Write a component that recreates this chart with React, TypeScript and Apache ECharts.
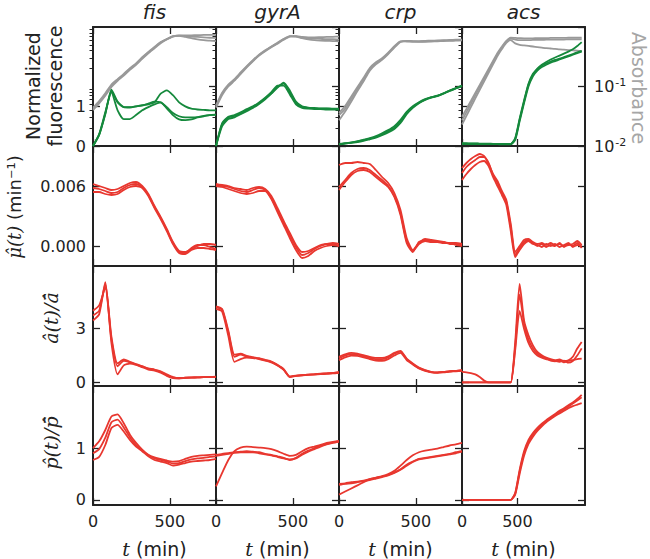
import React, { useEffect, useRef } from "react";
import * as echarts from "echarts";

// ---------- categories / axes ----------
const GENES = ["fis", "gyrA", "crp", "acs"];
const T_STD = [0, 40, 80, 120, 160, 200, 240, 280, 320, 360, 400, 440, 480, 520, 560, 600, 640, 680, 720, 760, 800];
const T_ACS = [0, 40, 80, 120, 160, 200, 240, 280, 320, 360, 400, 440, 480, 520, 560, 600, 640, 680, 720, 760, 800, 840, 880, 920, 960, 1000, 1040, 1080];
const X_MAX = [800, 800, 800, 1110];
const X_TICKS = [0, 500];
const FLUO_TICKS = [0, 1];
const MU_TICKS = [0, 0.006];
const A_TICKS = [0, 3];
const P_TICKS = [0, 1];

// ---------- fis ----------
const fisAbs = [
  [0.042, 0.055, 0.074, 0.104, 0.129, 0.158, 0.197, 0.239, 0.301, 0.373, 0.453, 0.548, 0.622, 0.698, 0.718, 0.70, 0.69, 0.68, 0.67, 0.66, 0.65],
  [0.040, 0.052, 0.070, 0.098, 0.125, 0.152, 0.19, 0.232, 0.292, 0.362, 0.44, 0.535, 0.615, 0.69, 0.72, 0.72, 0.725, 0.73, 0.735, 0.74, 0.74],
  [0.044, 0.057, 0.077, 0.108, 0.133, 0.163, 0.203, 0.245, 0.31, 0.382, 0.462, 0.56, 0.63, 0.70, 0.71, 0.68, 0.65, 0.62, 0.60, 0.59, 0.58],
];
const fisFluo = [
  [0, 0.28, 0.8, 1.42, 1.12, 0.98, 0.97, 1.0, 1.03, 1.05, 1.1, 1.32, 1.4, 1.28, 1.1, 1.0, 0.94, 0.92, 0.91, 0.9, 0.9],
  [0, 0.28, 0.82, 1.38, 1.1, 0.98, 0.98, 1.0, 1.02, 1.07, 1.12, 1.1, 0.98, 0.83, 0.75, 0.72, 0.72, 0.73, 0.76, 0.78, 0.79],
  [0, 0.3, 0.85, 1.35, 0.9, 0.68, 0.68, 0.78, 0.9, 0.98, 1.05, 1.1, 0.95, 0.78, 0.67, 0.65, 0.67, 0.72, 0.75, 0.78, 0.79],
];
const fisMu = [
  [0.0058, 0.0057, 0.0055, 0.0053, 0.0054, 0.0058, 0.0061, 0.0062, 0.0059, 0.0051, 0.0039, 0.0028, 0.0016, 0.0003, -0.0006, -0.0007, -0.0002, 0.0001, 0.0001, -0.0001, -0.0003],
  [0.0062, 0.006, 0.0058, 0.0056, 0.0057, 0.006, 0.0063, 0.0064, 0.006, 0.0052, 0.004, 0.0029, 0.0017, 0.0004, -0.0005, -0.0006, -0.0003, 0.0, 0.0002, 0.0002, 0.0001],
  [0.0054, 0.0054, 0.0052, 0.0051, 0.0052, 0.0056, 0.0059, 0.006, 0.0058, 0.005, 0.0038, 0.0027, 0.0015, 0.0002, -0.0007, -0.0008, -0.0004, -0.0002, -0.0002, -0.0003, -0.0004],
];
const fisA = [
  [3.74, 4.0, 5.5, 2.54, 1.06, 1.28, 1.15, 1.02, 0.91, 0.78, 0.72, 0.59, 0.41, 0.28, 0.24, 0.26, 0.28, 0.28, 0.3, 0.31, 0.31],
  [4.0, 4.3, 5.3, 2.4, 0.9, 1.2, 1.12, 1.0, 0.88, 0.76, 0.7, 0.62, 0.45, 0.3, 0.25, 0.26, 0.27, 0.28, 0.29, 0.3, 0.31],
  [3.46, 3.8, 5.6, 2.2, 0.45, 0.95, 1.05, 0.98, 0.85, 0.72, 0.66, 0.55, 0.36, 0.24, 0.22, 0.25, 0.27, 0.28, 0.29, 0.3, 0.32],
];
const fisP = [
  [1.0, 1.13, 1.35, 1.61, 1.65, 1.48, 1.26, 1.1, 0.97, 0.87, 0.82, 0.79, 0.76, 0.74, 0.75, 0.79, 0.83, 0.85, 0.86, 0.87, 0.88],
  [0.77, 0.83, 1.06, 1.39, 1.45, 1.32, 1.16, 1.03, 0.94, 0.84, 0.77, 0.74, 0.71, 0.66, 0.68, 0.71, 0.74, 0.75, 0.76, 0.77, 0.79],
  [0.9, 0.98, 1.2, 1.5, 1.55, 1.4, 1.21, 1.06, 0.95, 0.86, 0.8, 0.77, 0.74, 0.7, 0.71, 0.75, 0.78, 0.8, 0.81, 0.83, 0.84],
];

// ---------- gyrA ----------
const gyrAAbs = [
  [0.046, 0.076, 0.104, 0.129, 0.167, 0.215, 0.271, 0.337, 0.398, 0.464, 0.535, 0.622, 0.698, 0.698, 0.664, 0.647, 0.64, 0.631, 0.622, 0.622, 0.615],
  [0.044, 0.072, 0.10, 0.125, 0.162, 0.21, 0.265, 0.33, 0.39, 0.455, 0.525, 0.61, 0.69, 0.70, 0.68, 0.67, 0.67, 0.675, 0.68, 0.685, 0.69],
  [0.048, 0.079, 0.108, 0.133, 0.172, 0.22, 0.277, 0.343, 0.405, 0.472, 0.545, 0.632, 0.70, 0.69, 0.65, 0.62, 0.60, 0.59, 0.585, 0.58, 0.575],
];
const gyrAFluo = [
  [0, 0.55, 0.72, 0.76, 0.82, 0.9, 0.98, 1.08, 1.2, 1.33, 1.5, 1.57, 1.35, 1.08, 0.98, 0.96, 0.95, 0.94, 0.94, 0.93, 0.93],
  [0, 0.5, 0.68, 0.72, 0.8, 0.88, 0.96, 1.06, 1.18, 1.32, 1.47, 1.6, 1.4, 1.12, 1.0, 0.97, 0.96, 0.95, 0.95, 0.94, 0.94],
  [0, 0.58, 0.74, 0.78, 0.85, 0.93, 1.0, 1.1, 1.22, 1.36, 1.52, 1.52, 1.3, 1.05, 0.96, 0.94, 0.93, 0.93, 0.92, 0.92, 0.92],
];
const gyrAMu = [
  [0.0061, 0.006, 0.0059, 0.0057, 0.0055, 0.0054, 0.0056, 0.0058, 0.0056, 0.0048, 0.0036, 0.0023, 0.0011, -0.0001, -0.0009, -0.0007, -0.0003, 0.0, 0.0002, 0.0002, 0.0],
  [0.0062, 0.0061, 0.006, 0.0058, 0.0057, 0.0056, 0.0058, 0.0059, 0.0057, 0.005, 0.0038, 0.0025, 0.0013, 0.0001, -0.0006, -0.0005, -0.0002, 0.0001, 0.0002, 0.0003, 0.0002],
  [0.006, 0.0059, 0.0057, 0.0055, 0.0053, 0.0052, 0.0053, 0.0055, 0.0055, 0.0047, 0.0034, 0.0021, 0.0008, -0.0004, -0.0012, -0.001, -0.0005, -0.0002, 0.0, 0.0001, 0.0],
];
const gyrAA = [
  [4.2, 4.05, 2.8, 1.43, 1.55, 1.45, 1.39, 1.33, 1.24, 1.15, 0.96, 0.72, 0.31, 0.37, 0.4, 0.43, 0.45, 0.47, 0.5, 0.52, 0.56],
  [4.1, 3.95, 2.6, 1.15, 1.3, 1.38, 1.36, 1.3, 1.22, 1.12, 0.94, 0.7, 0.3, 0.36, 0.39, 0.42, 0.44, 0.46, 0.48, 0.5, 0.54],
  [4.25, 4.1, 2.9, 1.55, 1.6, 1.48, 1.41, 1.35, 1.26, 1.17, 0.98, 0.74, 0.33, 0.38, 0.41, 0.44, 0.46, 0.49, 0.51, 0.53, 0.57],
];
const gyrAP = [
  [0.26, 0.52, 0.77, 0.94, 1.01, 1.03, 1.02, 1.01, 1.0, 0.98, 0.94, 0.89, 0.85, 0.87, 0.94, 1.0, 1.03, 1.06, 1.1, 1.12, 1.14],
  [0.87, 0.89, 0.9, 0.92, 0.93, 0.94, 0.93, 0.92, 0.89, 0.87, 0.84, 0.81, 0.77, 0.81, 0.89, 0.95, 1.0, 1.05, 1.08, 1.11, 1.13],
  [0.85, 0.87, 0.89, 0.91, 0.92, 0.92, 0.92, 0.9, 0.88, 0.86, 0.83, 0.8, 0.78, 0.8, 0.87, 0.93, 0.98, 1.03, 1.07, 1.1, 1.12],
];

// ---------- crp ----------
const crpAbs = [
  [0.033, 0.0425, 0.062, 0.091, 0.131, 0.197, 0.245, 0.289, 0.36, 0.464, 0.57, 0.58, 0.575, 0.57, 0.572, 0.578, 0.585, 0.59, 0.595, 0.6, 0.605],
  [0.027, 0.038, 0.056, 0.084, 0.122, 0.185, 0.235, 0.28, 0.35, 0.45, 0.56, 0.585, 0.58, 0.58, 0.585, 0.59, 0.595, 0.6, 0.605, 0.61, 0.615],
  [0.036, 0.047, 0.068, 0.098, 0.14, 0.205, 0.255, 0.298, 0.37, 0.475, 0.575, 0.57, 0.565, 0.562, 0.565, 0.57, 0.575, 0.58, 0.585, 0.59, 0.595],
];
const crpFluo = [
  [0.05, 0.07, 0.09, 0.12, 0.16, 0.2, 0.25, 0.32, 0.4, 0.5, 0.66, 0.86, 1.0, 1.1, 1.18, 1.23, 1.27, 1.33, 1.4, 1.46, 1.52],
  [0.04, 0.06, 0.08, 0.1, 0.13, 0.17, 0.21, 0.27, 0.34, 0.43, 0.58, 0.8, 0.96, 1.08, 1.16, 1.22, 1.26, 1.32, 1.39, 1.45, 1.51],
  [0.05, 0.065, 0.085, 0.11, 0.145, 0.185, 0.23, 0.29, 0.37, 0.46, 0.62, 0.83, 0.98, 1.09, 1.17, 1.225, 1.265, 1.325, 1.395, 1.455, 1.515],
];
const crpMu = [
  [0.0081, 0.0083, 0.0083, 0.0084, 0.0083, 0.0082, 0.0076, 0.0069, 0.0063, 0.0053, 0.0036, 0.0008, -0.0004, 0.0003, 0.0007, 0.0006, 0.0005, 0.0004, 0.0003, 0.0003, 0.0002],
  [0.0056, 0.0064, 0.0071, 0.0075, 0.0076, 0.0074, 0.0069, 0.0064, 0.0059, 0.0049, 0.0031, 0.0003, -0.0006, 0.0004, 0.0005, 0.0004, 0.0004, 0.0003, 0.0003, 0.0001, 0.0],
  [0.0059, 0.0066, 0.0073, 0.0077, 0.0078, 0.0076, 0.0071, 0.0066, 0.006, 0.005, 0.0033, 0.0005, -0.0005, 0.0002, 0.0005, 0.0005, 0.0004, 0.0004, 0.0002, 0.0002, 0.0001],
];
const crpA = [
  [1.43, 1.57, 1.65, 1.61, 1.52, 1.43, 1.37, 1.37, 1.46, 1.65, 1.76, 1.33, 1.06, 0.83, 0.69, 0.59, 0.56, 0.59, 0.63, 0.65, 0.69],
  [1.24, 1.4, 1.5, 1.48, 1.4, 1.3, 1.22, 1.2, 1.3, 1.5, 1.65, 1.25, 1.0, 0.78, 0.64, 0.56, 0.54, 0.56, 0.6, 0.62, 0.65],
  [1.35, 1.5, 1.58, 1.55, 1.46, 1.37, 1.3, 1.3, 1.4, 1.6, 1.72, 1.3, 1.03, 0.8, 0.67, 0.58, 0.55, 0.58, 0.61, 0.64, 0.67],
];
const crpP = [
  [0.1, 0.16, 0.22, 0.28, 0.34, 0.4, 0.43, 0.46, 0.5, 0.56, 0.66, 0.77, 0.86, 0.92, 0.95, 0.97, 0.99, 1.02, 1.05, 1.07, 1.1],
  [0.31, 0.32, 0.34, 0.35, 0.37, 0.4, 0.42, 0.45, 0.48, 0.53, 0.59, 0.68, 0.74, 0.79, 0.81, 0.83, 0.85, 0.87, 0.89, 0.92, 0.94],
  [0.29, 0.31, 0.32, 0.34, 0.36, 0.38, 0.41, 0.44, 0.47, 0.52, 0.58, 0.66, 0.73, 0.78, 0.8, 0.82, 0.84, 0.86, 0.88, 0.9, 0.93],
];

// ---------- acs ----------
const acsAbs = [
  [0.027, 0.037, 0.051, 0.071, 0.098, 0.134, 0.185, 0.255, 0.35, 0.453, 0.57, 0.64, 0.615, 0.6, 0.6, 0.6, 0.607, 0.607, 0.607, 0.615, 0.615, 0.615, 0.615, 0.615, 0.62, 0.62, 0.62, 0.62],
  [0.023, 0.032, 0.045, 0.063, 0.088, 0.122, 0.17, 0.235, 0.325, 0.425, 0.54, 0.6, 0.53, 0.5, 0.49, 0.48, 0.47, 0.46, 0.45, 0.44, 0.435, 0.43, 0.42, 0.415, 0.41, 0.405, 0.40, 0.395],
  [0.031, 0.042, 0.057, 0.078, 0.106, 0.145, 0.198, 0.27, 0.365, 0.47, 0.585, 0.66, 0.655, 0.65, 0.645, 0.645, 0.645, 0.65, 0.65, 0.65, 0.655, 0.655, 0.655, 0.655, 0.66, 0.66, 0.66, 0.66],
];
const acsFluo = [
  [0.06, 0.06, 0.06, 0.06, 0.055, 0.055, 0.055, 0.05, 0.05, 0.05, 0.05, 0.05, 0.2, 0.69, 1.15, 1.57, 1.82, 1.94, 2.03, 2.08, 2.13, 2.17, 2.2, 2.24, 2.28, 2.32, 2.36, 2.4],
  [0.05, 0.05, 0.05, 0.05, 0.05, 0.045, 0.045, 0.045, 0.045, 0.04, 0.04, 0.04, 0.15, 0.62, 1.08, 1.5, 1.76, 1.9, 1.99, 2.05, 2.1, 2.14, 2.18, 2.22, 2.26, 2.3, 2.34, 2.38],
  [0.07, 0.07, 0.065, 0.065, 0.06, 0.06, 0.06, 0.055, 0.055, 0.055, 0.05, 0.05, 0.18, 0.66, 1.12, 1.55, 1.8, 1.95, 2.05, 2.12, 2.18, 2.23, 2.28, 2.33, 2.38, 2.44, 2.52, 2.62],
];
const acsMu = [
  [0.0073, 0.0079, 0.0083, 0.0086, 0.0089, 0.0089, 0.0083, 0.0071, 0.0063, 0.0053, 0.0044, 0.0019, -0.0009, -0.0002, 0.0004, 0.0006, 0.0003, 0.0, 0.0002, -0.0001, 0.0001, 0.0, 0.0003, -0.0001, 0.0002, 0.0, 0.0003, -0.0002],
  [0.0066, 0.0072, 0.0077, 0.0081, 0.0084, 0.0085, 0.008, 0.0069, 0.006, 0.0051, 0.0041, 0.0015, -0.0011, -0.0004, 0.0002, 0.0005, 0.0002, 0.0001, -0.0001, 0.0002, 0.0, 0.0002, -0.0001, 0.0001, 0.0003, -0.0001, 0.0001, 0.0],
  [0.0078, 0.0083, 0.0087, 0.009, 0.0092, 0.009, 0.0082, 0.0072, 0.0065, 0.0055, 0.0046, 0.0022, -0.0006, 0.0, 0.0006, 0.0007, 0.0004, 0.0002, 0.0003, 0.0001, 0.0003, 0.0001, 0.0002, 0.0, 0.0001, 0.0002, 0.0005, 0.0001],
];
const acsA = [
  [0.59, 0.56, 0.52, 0.45, 0.3, 0.1, 0, 0, 0, 0, 0, 0, 2.24, 5.5, 3.46, 2.63, 2.07, 1.7, 1.52, 1.39, 1.3, 1.24, 1.28, 1.2, 1.24, 1.43, 1.89, 2.26],
  [0, 0, 0, 0, 0, 0, 0, 0, 0, 0, 0, 0, 2.0, 4.9, 3.3, 2.4, 1.9, 1.6, 1.45, 1.35, 1.25, 1.2, 1.15, 1.22, 1.1, 1.2, 1.5, 1.9],
  [0, 0, 0, 0, 0, 0, 0, 0, 0, 0, 0, 0, 1.8, 4.0, 3.0, 2.2, 1.75, 1.5, 1.38, 1.3, 1.22, 1.18, 1.25, 1.12, 1.2, 1.25, 1.3, 1.33],
];
const acsP = [
  [0, 0, 0, 0, 0, 0, 0, 0, 0, 0, 0, 0, 0.13, 0.58, 0.94, 1.16, 1.29, 1.39, 1.47, 1.54, 1.6, 1.66, 1.72, 1.77, 1.83, 1.88, 1.95, 2.03],
  [0, 0, 0, 0, 0, 0, 0, 0, 0, 0, 0, 0, 0.1, 0.5, 0.85, 1.08, 1.22, 1.33, 1.42, 1.5, 1.56, 1.62, 1.67, 1.72, 1.77, 1.81, 1.84, 1.87],
  [0, 0, 0, 0, 0, 0, 0, 0, 0, 0, 0, 0, 0.12, 0.55, 0.9, 1.12, 1.26, 1.36, 1.45, 1.52, 1.58, 1.64, 1.7, 1.75, 1.8, 1.86, 1.92, 1.98],
];

// ---------- styling / layout ----------
const RED = "#e8372f";
const GREEN = "#15893c";
const GREY = "#999999";
const INK = "#222222";
const SANS = '"DejaVu Sans", sans-serif';
const SERIF = '"DejaVu Serif", serif';

const COL_LEFT = [93, 216, 339, 462];
const PANEL_W = 123;
const ROW_TOP = [27, 146, 266, 386];
const ROW_H = [119, 120, 120, 119];

const COLUMNS = [
  { t: T_STD, abs: fisAbs, fluo: fisFluo, mu: fisMu, a: fisA, p: fisP },
  { t: T_STD, abs: gyrAAbs, fluo: gyrAFluo, mu: gyrAMu, a: gyrAA, p: gyrAP },
  { t: T_STD, abs: crpAbs, fluo: crpFluo, mu: crpMu, a: crpA, p: crpP },
  { t: T_ACS, abs: acsAbs, fluo: acsFluo, mu: acsMu, a: acsA, p: acsP },
];

const ROW_AXES = [
  { min: 0, max: 3, ticks: FLUO_TICKS, fmt: (v: number) => String(v) },
  { min: -0.002, max: 0.010, ticks: MU_TICKS, fmt: (v: number) => v.toFixed(3) },
  { min: -0.2, max: 6.5, ticks: A_TICKS, fmt: (v: number) => String(v) },
  { min: -0.1, max: 2.2, ticks: P_TICKS, fmt: (v: number) => String(v) },
];

const LOG_MINOR_POS = [-2, -1].flatMap((d) =>
  [2, 3, 4, 5, 6, 7, 8, 9].map((k) => d + Math.log10(k))
);

function buildOption() {
  const grid: any[] = [];
  const xAxis: any[] = [];
  const yAxis: any[] = [];
  const series: any[] = [];
  const lineStyleAxis = { color: INK, width: 2 };
  const tickStyle = { color: INK, width: 1.3 };

  const addLines = (times: number[], reps: number[][], xi: number, yi: number, color: string, z: number) => {
    reps.forEach((vals) => {
      series.push({
        type: "line",
        xAxisIndex: xi,
        yAxisIndex: yi,
        data: vals.map((v, i) => [times[i], v]),
        symbol: "none",
        showSymbol: false,
        smooth: 0.2,
        silent: true,
        animation: false,
        z,
        lineStyle: { color, width: 1.8 },
      });
    });
  };

  for (let r = 0; r < 4; r++) {
    for (let c = 0; c < 4; c++) {
      const g = grid.length;
      grid.push({ left: COL_LEFT[c], top: ROW_TOP[r], width: PANEL_W, height: ROW_H[r], containLabel: false });
      const xMax = X_MAX[c];
      const xb = xAxis.length;
      xAxis.push({
        gridIndex: g, type: "value", position: "bottom", min: 0, max: xMax,
        axisLine: { show: true, onZero: false, lineStyle: lineStyleAxis },
        axisTick: { show: true, inside: true, length: 7, customValues: X_TICKS, lineStyle: tickStyle },
        axisLabel: { show: r === 3, customValues: X_TICKS, fontSize: 16, fontFamily: SANS, color: INK, margin: 8 },
        splitLine: { show: false },
      });
      xAxis.push({
        gridIndex: g, type: "value", position: "top", min: 0, max: xMax,
        axisLine: { show: true, onZero: false, lineStyle: lineStyleAxis },
        axisTick: { show: true, inside: true, length: 7, customValues: X_TICKS, lineStyle: tickStyle },
        axisLabel: { show: false },
        splitLine: { show: false },
      });
      const ra = ROW_AXES[r];
      const yl = yAxis.length;
      yAxis.push({
        gridIndex: g, type: "value", position: "left", min: ra.min, max: ra.max,
        axisLine: { show: true, onZero: false, lineStyle: lineStyleAxis },
        axisTick: { show: true, inside: true, length: 7, customValues: ra.ticks, lineStyle: tickStyle },
        axisLabel: { show: c === 0, customValues: ra.ticks, formatter: ra.fmt, fontSize: 16, fontFamily: SANS, color: INK, margin: 7 },
        splitLine: { show: false },
      });
      const col = COLUMNS[c];
      if (r === 0) {
        const yr = yAxis.length;
        yAxis.push({
          gridIndex: g, type: "log", logBase: 10, position: "right", min: 0.01, max: 1,
          axisLine: { show: true, onZero: false, lineStyle: lineStyleAxis },
          axisTick: { show: true, inside: true, length: 7, lineStyle: tickStyle },
          axisLabel: {
            show: c === 3, fontSize: 16, fontFamily: SANS, color: INK, margin: 9,
            formatter: (v: number) => {
              const e = Math.round(Math.log10(v));
              return e < 0 ? `{b|10}{s|${e}}` : "";
            },
            rich: {
              b: { fontSize: 16, fontFamily: SANS, color: INK },
              s: { fontSize: 11, fontFamily: SANS, color: INK, verticalAlign: "top", padding: [0, 0, 8, 1] },
            },
          },
          splitLine: { show: false },
        });
        yAxis.push({
          gridIndex: g, type: "value", position: "right", min: -2, max: 0,
          axisLine: { show: false },
          axisTick: { show: true, inside: true, length: 3.5, customValues: LOG_MINOR_POS, lineStyle: { color: INK, width: 1 } },
          axisLabel: { show: false },
          splitLine: { show: false },
        });
        addLines(col.t, col.abs, xb, yr, GREY, 2);
        addLines(col.t, col.fluo, xb, yl, GREEN, 3);
      } else {
        yAxis.push({
          gridIndex: g, type: "value", position: "right", min: ra.min, max: ra.max,
          axisLine: { show: true, onZero: false, lineStyle: lineStyleAxis },
          axisTick: { show: true, inside: true, length: 7, customValues: ra.ticks, lineStyle: tickStyle },
          axisLabel: { show: false },
          splitLine: { show: false },
        });
        const reps = r === 1 ? col.mu : r === 2 ? col.a : col.p;
        addLines(col.t, reps, xb, yl, RED, 3);
      }
    }
  }

  const graphic: any[] = [];
  GENES.forEach((name, c) => {
    graphic.push({
      type: "text", x: COL_LEFT[c] + PANEL_W / 2, y: 12,
      style: { text: name, font: `italic 20px ${SANS}`, fill: INK, align: "center", verticalAlign: "middle" },
    });
    graphic.push({
      type: "text", x: COL_LEFT[c] + PANEL_W / 2, y: 549,
      style: {
        text: "{i|t} (min)", font: `19px ${SANS}`, fill: INK, align: "center", verticalAlign: "middle",
        rich: { i: { font: `italic 19px ${SERIF}`, fill: INK } },
      },
    });
  });
  graphic.push({
    type: "text", x: 44, y: 86, rotation: Math.PI / 2,
    style: { text: "Normalized\nfluorescence", font: `19px ${SANS}`, fill: INK, align: "center", verticalAlign: "middle", lineHeight: 22 },
  });
  graphic.push({
    type: "text", x: 14, y: 207, rotation: Math.PI / 2,
    style: {
      text: "{i|μ\u0302(t)} (min⁻¹)", font: `18px ${SANS}`, fill: INK, align: "center", verticalAlign: "middle",
      rich: { i: { font: `italic 18px ${SERIF}`, fill: INK } },
    },
  });
  graphic.push({
    type: "text", x: 51, y: 318, rotation: Math.PI / 2,
    style: { text: "â(t)/ā\u0302", font: `italic 19px ${SERIF}`, fill: INK, align: "center", verticalAlign: "middle" },
  });
  graphic.push({
    type: "text", x: 51, y: 443, rotation: Math.PI / 2,
    style: { text: "p\u0302(t)/p\u0304\u0302", font: `italic 19px ${SERIF}`, fill: INK, align: "center", verticalAlign: "middle" },
  });
  graphic.push({
    type: "text", x: 639, y: 88, rotation: -Math.PI / 2,
    style: { text: "Absorbance", font: `19px ${SANS}`, fill: "#a6a6a6", align: "center", verticalAlign: "middle" },
  });

  return {
    animation: false,
    backgroundColor: "#ffffff",
    grid,
    xAxis,
    yAxis,
    series,
    graphic,
  };
}

export default function App() {
  const ref = useRef<HTMLDivElement>(null);
  useEffect(() => {
    if (!ref.current) return;
    const chart = echarts.init(ref.current, null, { renderer: "svg" });
    chart.setOption(buildOption() as any);
    return () => chart.dispose();
  }, []);
  return (
    <div
      ref={ref}
      style={{ position: "absolute", left: 0, top: 0, width: 650, height: 559, background: "#fff" }}
    />
  );
}
